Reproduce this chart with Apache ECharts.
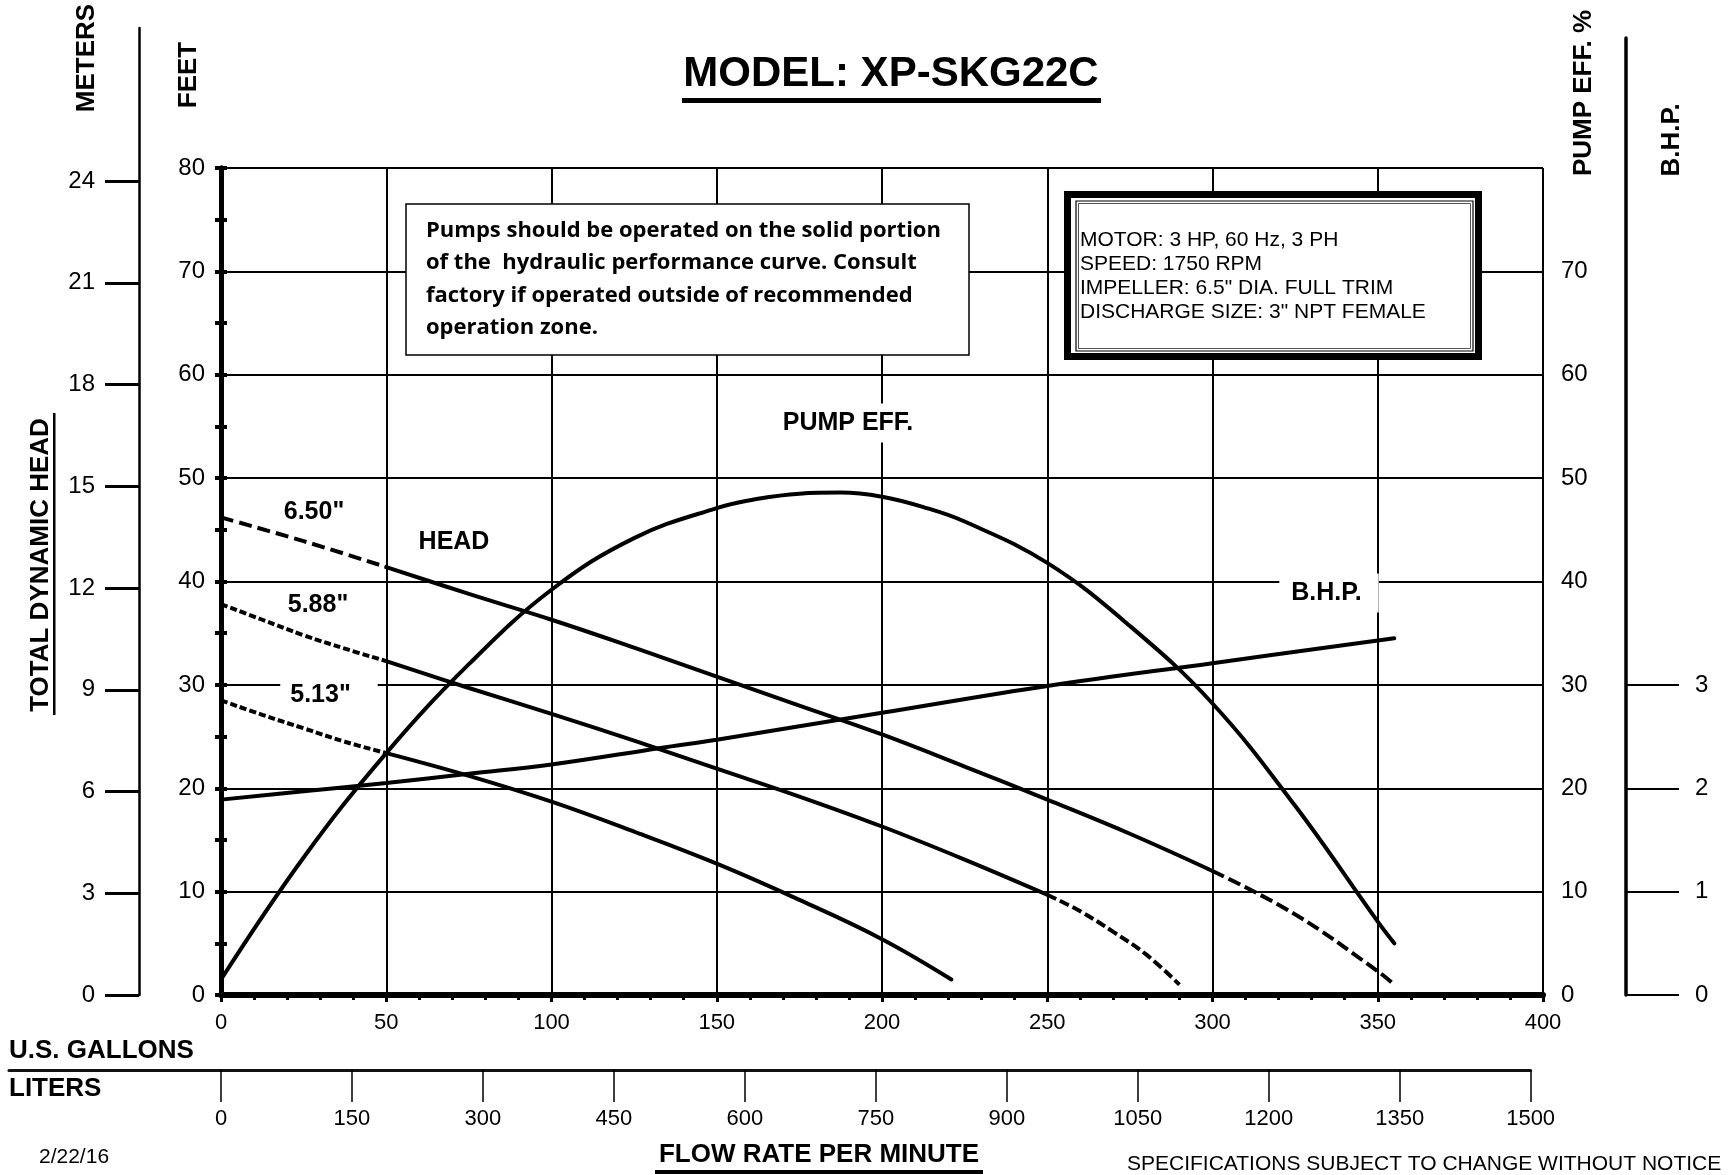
<!DOCTYPE html>
<html>
<head>
<meta charset="utf-8">
<title>MODEL: XP-SKG22C</title>
<script src="https://cdn.jsdelivr.net/npm/echarts@6/dist/echarts.min.js"></script>
<style>
  html, body { margin: 0; padding: 0; background: #fff; }
  #chart { width: 1733px; height: 1175px; }
</style>
</head>
<body>
<div id="chart"></div>
<script>
// head curves: flow in US gpm, head in feet
const flow650 = [0, 25, 50, 75, 100, 125, 150, 175, 200, 225, 250, 275, 300, 325, 350, 355];
const head650 = [46.2, 43.9, 41.4, 38.8, 36.3, 33.6, 30.8, 28.0, 25.2, 22.1, 18.9, 15.6, 12.0, 7.8, 2.3, 1.0];

const flow588 = [0, 12.5, 25, 37.5, 50, 75, 100, 125, 150, 175, 200, 225, 250, 260, 270, 280, 290];
const head588 = [37.8, 36.3, 34.8, 33.5, 32.3, 29.7, 27.2, 24.6, 21.9, 19.2, 16.3, 13.1, 9.7, 8.1, 6.1, 3.9, 1.0];

const flow513 = [0, 12.5, 25, 37.5, 50, 75, 100, 125, 150, 175, 200, 221];
const head513 = [28.5, 27.1, 25.8, 24.5, 23.4, 21.2, 18.7, 15.8, 12.7, 9.2, 5.4, 1.5];

// pump efficiency (%)
const effFlow = [0, 25, 50, 75, 100, 125, 150, 162.5, 175, 187.5, 200, 212.5, 225, 250, 275, 300, 325, 350, 355];
const effPct = [1.5, 13.3, 23.4, 32.0, 39.2, 44.2, 47.1, 48.0, 48.5, 48.6, 48.2, 47.2, 45.8, 41.8, 35.7, 28.2, 18.3, 7.1, 5.0];

// brake horsepower
const bhpFlow = [0, 25, 50, 75, 100, 133, 150, 200, 250, 300, 355];
const bhpHp = [1.89, 1.97, 2.05, 2.14, 2.23, 2.39, 2.47, 2.73, 2.99, 3.21, 3.45];

// tick labels
const meterTicks = [0, 3, 6, 9, 12, 15, 18, 21, 24];
const effTicks = [0, 10, 20, 30, 40, 50, 60, 70];
const bhpTicks = [0, 1, 2, 3];
const literTicks = [0, 150, 300, 450, 600, 750, 900, 1050, 1200, 1350, 1500];

// layout
const plotLeft = 221, plotRight = 1543, plotTop = 168, plotBottom = 995;
const pxPerGal = (plotRight - plotLeft) / 400;
const pxPerFt = (plotBottom - plotTop) / 80;
const pxPerL = pxPerGal / 3.78541;
const pxPerM = pxPerFt * 3.28084;
const meterTop = 28, bhpTop = 38;
const literLeft = 9, literLineY = 1070;

const font = 'Liberation Sans, Arial, sans-serif';
const black = '#000';

const pairs = (xs, ys, lo, hi) =>
  xs.map((x, i) => [x, ys[i]]).filter(p => p[0] >= lo && p[0] <= hi);

const curve = (data, dash, yAxisIndex) => ({
  type: 'line',
  xAxisIndex: 0,
  yAxisIndex: yAxisIndex || 0,
  data: data,
  smooth: 0.4,
  symbol: 'none',
  silent: true,
  lineStyle: { color: black, width: 4, type: dash || 'solid', cap: dash ? 'butt' : 'round' }
});

const headSeries = (flows, heads, solidFrom, solidTo, leftDash, rightDash) => {
  const out = [curve(pairs(flows, heads, 0, solidFrom), leftDash)];
  out.push(curve(pairs(flows, heads, solidFrom, solidTo)));
  if (rightDash) out.push(curve(pairs(flows, heads, solidTo, 1000), rightDash));
  return out;
};

const chart = echarts.init(document.getElementById('chart'));

const label = (text, x, y, extra, rotation) => ({
  type: 'text', x: x, y: y, z: 50, rotation: rotation || 0,
  style: Object.assign({ text: text, fill: black, font: 'bold 25px ' + font, align: 'center', verticalAlign: 'middle' }, extra || {})
});
const up = Math.PI / 2;

const option = {
  animation: false,
  backgroundColor: '#fff',
  grid: [
    { left: plotLeft, right: 1733 - plotRight, top: plotTop, bottom: 1175 - plotBottom },
    { left: 139, width: 1, top: meterTop, bottom: 1175 - plotBottom },
    { left: 1626, width: 1, top: bhpTop, bottom: 1175 - plotBottom },
    { left: literLeft, right: 1733 - (plotLeft + 1500 * pxPerL), top: literLineY - 1, bottom: 1175 - literLineY }
  ],
  xAxis: [
    {
      gridIndex: 0, type: 'value', position: 'bottom', min: 0, max: 400, interval: 50,
      axisLine: { lineStyle: { color: black, width: 6 } },
      axisTick: { length: 7, lineStyle: { color: black, width: 3 } },
      minorTick: { show: true, splitNumber: 5, length: 5, lineStyle: { color: black, width: 3 } },
      splitLine: { show: true, lineStyle: { color: black, width: 2 } },
      axisLabel: { color: black, fontFamily: font, fontSize: 22, margin: 17 }
    },
    {
      gridIndex: 0, type: 'value', position: 'top', min: 0, max: 400,
      axisLine: { show: true, lineStyle: { color: black, width: 3.5 } },
      axisTick: { show: false }, axisLabel: { show: false }, splitLine: { show: false }
    },
    { gridIndex: 1, type: 'value', show: false },
    { gridIndex: 2, type: 'value', show: false },
    {
      gridIndex: 3, type: 'value', position: 'bottom',
      min: -(plotLeft - literLeft) / pxPerL, max: 1500,
      axisLine: { lineStyle: { color: '#111', width: 3 } },
      axisTick: { customValues: literTicks, length: 32, lineStyle: { color: black, width: 1.5 } },
      axisLabel: { customValues: literTicks, formatter: v => String(v), color: black, fontFamily: font, fontSize: 22, margin: 38 },
      splitLine: { show: false }
    }
  ],
  yAxis: [
    {
      gridIndex: 0, type: 'value', position: 'left', min: 0, max: 80, interval: 10,
      axisLine: { show: true, lineStyle: { color: black, width: 5 } },
      axisTick: { show: true, length: 6, lineStyle: { color: black, width: 4 } },
      minorTick: { show: true, splitNumber: 2, length: 6, lineStyle: { color: black, width: 4 } },
      splitLine: { show: true, lineStyle: { color: black, width: 2 } },
      axisLabel: { color: black, fontFamily: font, fontSize: 24, margin: 16 }
    },
    {
      gridIndex: 0, type: 'value', position: 'right', min: 0, max: 80, interval: 10,
      axisLine: { show: true, lineStyle: { color: black, width: 5 } },
      axisTick: { show: true, length: 6, lineStyle: { color: black, width: 4 } },
      minorTick: { show: true, splitNumber: 2, length: 6, lineStyle: { color: black, width: 4 } },
      splitLine: { show: false },
      axisLabel: { customValues: effTicks, color: black, fontFamily: font, fontSize: 24, margin: 18 }
    },
    { gridIndex: 0, type: 'value', position: 'right', min: 0, max: 8, show: false },
    {
      gridIndex: 1, type: 'value', position: 'left', min: 0, max: (plotBottom - meterTop) / pxPerM,
      axisLine: { show: true, lineStyle: { color: black, width: 2.5 } },
      axisTick: { show: true, customValues: meterTicks, length: 34, lineStyle: { color: black, width: 3 } },
      axisLabel: { customValues: meterTicks, color: black, fontFamily: font, fontSize: 24, margin: 44 },
      splitLine: { show: false }
    },
    {
      gridIndex: 2, type: 'value', position: 'right', min: 0, max: (plotBottom - bhpTop) / (pxPerFt * 10),
      axisLine: { show: true, lineStyle: { color: black, width: 3.5 } },
      axisTick: { show: true, customValues: bhpTicks, length: 53, lineStyle: { color: black, width: 2 } },
      axisLabel: { customValues: bhpTicks, color: black, fontFamily: font, fontSize: 24, margin: 68 },
      splitLine: { show: false }
    },
    { gridIndex: 3, type: 'value', show: false }
  ],
  series: [].concat(
    headSeries(flow650, head650, 50, 300, [13, 6], [13, 5]),
    headSeries(flow588, head588, 50, 250, [7, 3], [10, 4]),
    headSeries(flow513, head513, 50, 221, [7, 3], null),
    [curve(pairs(effFlow, effPct, 0, 400), null, 1)],
    [curve(pairs(bhpFlow, bhpHp, 0, 400), null, 2)]
  ),
  graphic: [
    // title
    label('MODEL: XP-SKG22C', 891, 74, { font: 'bold 42px ' + font }),
    { type: 'rect', z: 50, shape: { x: 682, y: 98, width: 419, height: 5 }, style: { fill: black } },
    // axis titles
    label('METERS', 87, 58, { font: 'bold 26px ' + font }, up),
    label('FEET', 189, 75, { font: 'bold 26px ' + font }, up),
    label('TOTAL DYNAMIC HEAD', 41, 565, { font: 'bold 26px ' + font }, up),
    { type: 'rect', z: 50, shape: { x: 53, y: 413, width: 2.5, height: 302 }, style: { fill: black } },
    label('PUMP EFF. %', 1584, 93, { font: 'bold 26px ' + font }, up),
    label('B.H.P.', 1672, 140, { font: 'bold 26px ' + font }, up),
    // bottom texts
    label('U.S. GALLONS', 9, 1051, { font: 'bold 26px ' + font, align: 'left' }),
    label('LITERS', 9, 1089, { font: 'bold 26px ' + font, align: 'left' }),
    label('2/22/16', 39, 1157, { font: '21px ' + font, align: 'left' }),
    label('FLOW RATE PER MINUTE', 819, 1155, { font: 'bold 26px ' + font }),
    { type: 'rect', z: 50, shape: { x: 655, y: 1170, width: 328, height: 4 }, style: { fill: black } },
    label('SPECIFICATIONS SUBJECT TO CHANGE WITHOUT NOTICE', 1127, 1164, { font: '21px ' + font, align: 'left' }),
    // note box
    { type: 'rect', z: 50, shape: { x: 406, y: 204, width: 563, height: 151 }, style: { fill: '#fff', stroke: black, lineWidth: 1.5 } },
    label('Pumps should be operated on the solid portion\nof the  hydraulic performance curve. Consult\nfactory if operated outside of recommended\noperation zone.', 426, 279,
      { font: 'bold 22px "Open Sans", Lato, sans-serif', align: 'left', lineHeight: 32.5 }),
    // motor box
    { type: 'rect', z: 50, shape: { x: 1067.5, y: 194.5, width: 411, height: 162 }, style: { fill: '#fff', stroke: black, lineWidth: 7 } },
    { type: 'rect', z: 50, shape: { x: 1076, y: 201, width: 397, height: 150 }, style: { fill: 'none', stroke: black, lineWidth: 1.2 } },
    { type: 'rect', z: 50, shape: { x: 1078.5, y: 203.5, width: 392, height: 145 }, style: { fill: 'none', stroke: '#555', lineWidth: 1 } },
    label('MOTOR: 3 HP, 60 Hz, 3 PH\nSPEED: 1750 RPM\nIMPELLER: 6.5" DIA. FULL TRIM\nDISCHARGE SIZE: 3" NPT FEMALE', 1080, 276,
      { font: '21px ' + font, align: 'left', lineHeight: 24 }),
    // curve labels
    label('6.50"', 314, 512),
    label('5.88"', 318, 605),
    label('5.13"', 329, 695, { backgroundColor: '#fff', padding: [8, 27, 4, 10] }),
    label('HEAD', 454, 542),
    label('PUMP EFF.', 848, 423, { backgroundColor: '#fff', padding: [10, 8, 4, 8] }),
    label('B.H.P.', 1329, 593, { backgroundColor: '#fff', padding: [8, 17, 6, 12] })
  ]
};

chart.setOption(option);
</script>
</body>
</html>
